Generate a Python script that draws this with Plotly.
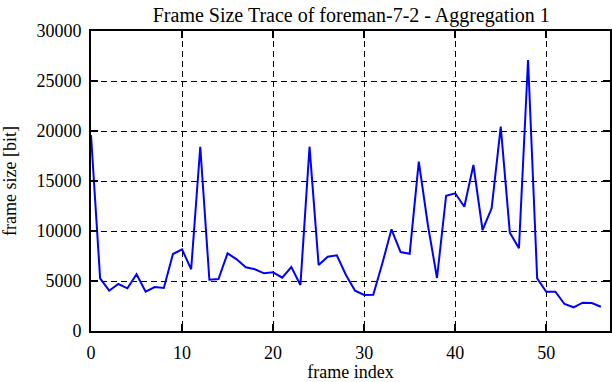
import plotly.graph_objects as go

frame_index = list(range(57))
frame_size = [19600, 5270, 4030, 4700, 4270, 5670, 3930, 4400, 4300, 7700,
              8170, 6170, 18430, 5130, 5200, 7770, 7170, 6370, 6170, 5770,
              5870, 5330, 6400, 4600, 18430, 6600, 7430, 7570, 5600, 4030,
              3600, 3630, 6770, 10170, 7900, 7730, 16930, 10600, 5300, 13530,
              13770, 12430, 16600, 10100, 12270, 20430, 9830, 8270, 27100, 5270,
              3930, 3930, 2700, 2370, 2830, 2800, 2430]

x_ticks = [0, 10, 20, 30, 40, 50]
y_ticks = [0, 5000, 10000, 15000, 20000, 25000, 30000]

font_family = "Liberation Serif, Times New Roman, serif"

fig = go.Figure()
fig.add_trace(go.Scatter(x=frame_index, y=frame_size, mode="lines",
                         line=dict(color="#0000FF", width=2), showlegend=False))

axis_common = dict(showline=True, linecolor="black", linewidth=2, mirror="ticks",
                   ticks="inside", ticklen=7, tickwidth=1.5, tickcolor="black",
                   showgrid=True, gridcolor="black", gridwidth=1, griddash="6px,4px",
                   zeroline=False, automargin=False, ticklabelstandoff=4,
                   tickfont=dict(family=font_family, size=18, color="black"))

fig.update_xaxes(range=[0, 57], tickvals=x_ticks, ticktext=[str(v) for v in x_ticks],
                 title=dict(text="frame index", font=dict(family=font_family, size=18, color="black"), standoff=6),
                 **axis_common)
fig.update_yaxes(range=[0, 30000], tickvals=y_ticks, ticktext=[str(v) for v in y_ticks],
                 title=dict(text="frame size [bit]", font=dict(family=font_family, size=18, color="black"), standoff=17),
                 **axis_common)

fig.update_layout(
    width=612, height=382,
    margin=dict(l=91, r=2, t=31, b=51),
    plot_bgcolor="white", paper_bgcolor="white",
    title=dict(text="Frame Size Trace of foreman-7-2 - Aggregation 1",
               font=dict(family=font_family, size=20, color="black"),
               x=0.574, xanchor="center", y=0.962, yanchor="middle"),
)

fig.write_html("out.html", config={"displayModeBar": False},
               post_script="document.body.style.margin='0';")
